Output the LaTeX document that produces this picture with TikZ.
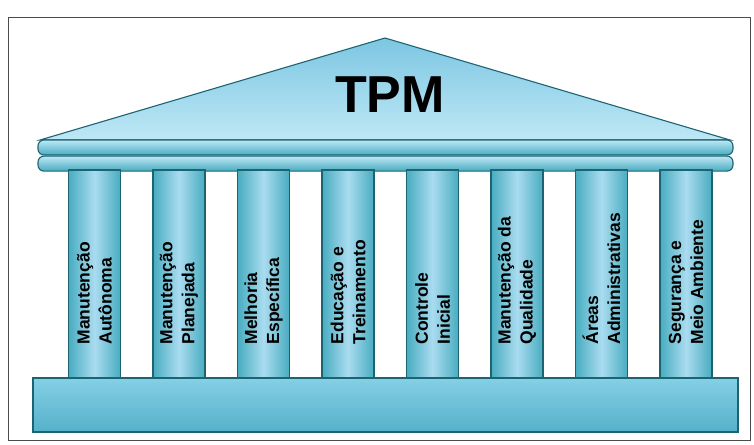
\documentclass[tikz,border=0pt]{standalone}
\usepackage{fontspec}
\setmainfont{Liberation Sans}
\usetikzlibrary{positioning}
\definecolor{tpmdark}{RGB}{28,100,115}
\definecolor{tpmedge}{RGB}{72,172,192}
\definecolor{tpmlight}{RGB}{170,220,240}
\definecolor{tpmroof}{RGB}{125,198,226}
\definecolor{tpmpale}{RGB}{190,232,245}
\definecolor{tpmbase}{RGB}{92,192,220}
\tikzset{
  pillar/.style={
    draw=tpmdark,
    line width=1.1pt,
    left color=tpmedge,
    right color=tpmedge,
    middle color=tpmlight,
    minimum width=52pt,
    minimum height=208pt,
    inner sep=0pt
  },
  pillartext/.style={
    rotate=90,
    anchor=west,
    align=left,
    inner sep=0pt,
    font=\bfseries\fontsize{17.5}{22}\selectfont
  },
  band/.style={
    draw=tpmdark,
    line width=1.1pt,
    rounded corners=6pt,
    top color=tpmpale,
    bottom color=tpmedge,
    minimum width=695pt,
    minimum height=15pt,
    inner sep=0pt
  },
  roof/.style={
    draw=tpmdark,
    line width=1.1pt,
    top color=tpmroof,
    bottom color=tpmpale
  },
  plinth/.style={
    draw=tpmdark,
    line width=1.1pt,
    top color=tpmbase!75!white,
    bottom color=tpmbase!92!black,
    minimum width=705pt,
    minimum height=54pt,
    inner sep=0pt
  }
}
\begin{document}
\begin{tikzpicture}[x=1pt, y=-1pt]
\useasboundingbox (0,0) rectangle (754,444);
\draw[line width=1pt, black!70] (8,18) rectangle (750,440);

% telhado
\draw[roof] (40,140) -- (385,38) -- (730,140) -- cycle;
\node[font=\bfseries\fontsize{52}{52}\selectfont] (title) at (390,95) {TPM};
\node[band] (beam) at (385.5,147.5) {};
\node[band, below=0pt of beam] (beamlow) {};

% pilares
\foreach \txt [count=\i] in {
    {Manutenção\\Autônoma},
    {Manutenção\\Planejada},
    {Melhoria\\Específica},
    {Educação e\\Treinamento},
    {Controle\\Inicial},
    {Manutenção da\\Qualidade},
    {Áreas\\Administrativas},
    {Segurança e\\Meio Ambiente}}
{
  \node[pillar] (p\i) at ({94.5+84.5*(\i-1)},274) {};
  \node[pillartext] (t\i) at ([yshift=34pt]p\i.south) {\txt};
}

% base
\node[plinth] (base) at (385.5,405) {};
\end{tikzpicture}
\end{document}
